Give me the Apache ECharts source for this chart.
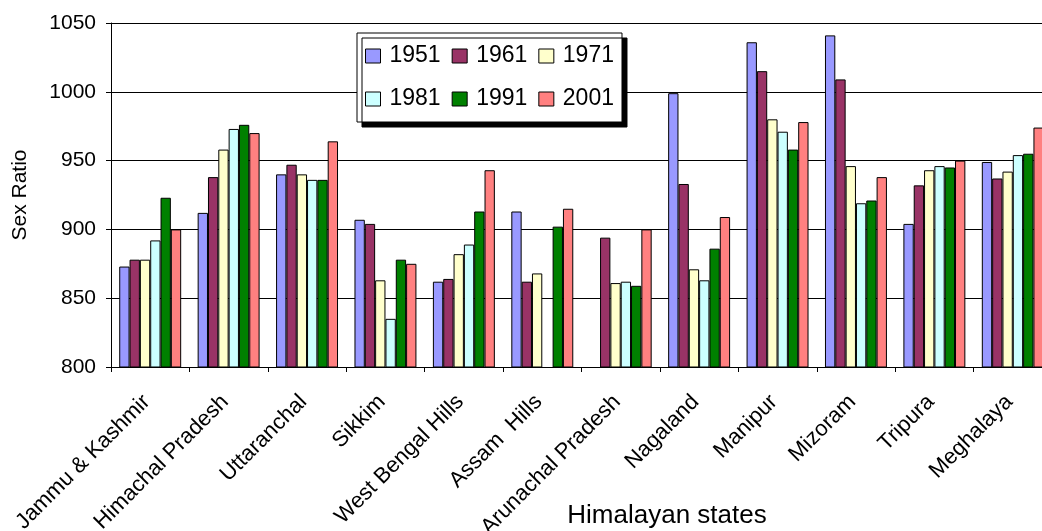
<!DOCTYPE html>
<html>
<head>
<meta charset="utf-8">
<title>Sex Ratio in Himalayan states</title>
<script src="https://cdn.jsdelivr.net/npm/echarts@6/dist/echarts.min.js"></script>
<style>
  html, body { margin: 0; padding: 0; background: #fff; }
  #chart { width: 1042px; height: 531px; }
</style>
</head>
<body>
<div id="chart"></div>
<script>
// Census years shown as bar series
const years = ['1951', '1961', '1971', '1981', '1991', '2001'];

// Himalayan states along the category axis
const states = [
  'Jammu & Kashmir', 'Himachal Pradesh', 'Uttaranchal', 'Sikkim',
  'West Bengal Hills', 'Assam  Hills', 'Arunachal Pradesh', 'Nagaland',
  'Manipur', 'Mizoram', 'Tripura', 'Meghalaya'
];

// Sex ratio (females per 1000 males) per census year, in state order
const sr1951 = [873, 912, 940, 907, 862, 913, null, 999, 1036, 1041, 904, 949];
const sr1961 = [878, 938, 947, 904, 864, 862, 894, 933, 1015, 1009, 932, 937];
const sr1971 = [878, 958, 940, 863, 882, 868, 861, 871, 980, 946, 943, 942];
const sr1981 = [892, 973, 936, 835, 889, null, 862, 863, 971, 919, 946, 954];
const sr1991 = [923, 976, 936, 878, 913, 902, 859, 886, 958, 921, 945, 955];
const sr2001 = [900, 970, 964, 875, 943, 915, 900, 909, 978, 938, 950, 974];

// Y axis range and step
const yMin = 800;
const yMax = 1050;
const yStep = 50;

const seriesValues = [sr1951, sr1961, sr1971, sr1981, sr1991, sr2001];
const seriesColors = ['#9999FF', '#993366', '#FFFFCC', '#CCFFFF', '#008000', '#FF8080'];

const FONT = '"Liberation Sans", Arial, Helvetica, sans-serif';

const chart = echarts.init(document.getElementById('chart'), null, { renderer: 'canvas' });

chart.setOption({
  animation: false,
  backgroundColor: '#ffffff',
  textStyle: { fontFamily: FONT, color: '#000' },
  grid: {
    left: 111,
    top: 23,
    bottom: 164,
    right: -10,
    containLabel: false,
    outerBoundsMode: 'none'
  },
  legend: {
    data: years,
    left: 357,
    top: 33,
    width: 252,
    orient: 'horizontal',
    padding: [7, 8, 7, 8],
    itemGap: 11,
    itemWidth: 15,
    itemHeight: 14,
    icon: 'rect',
    backgroundColor: '#ffffff',
    borderColor: '#000',
    borderWidth: 1,
    borderRadius: 0,
    shadowColor: '#000',
    shadowBlur: 0,
    shadowOffsetX: 5,
    shadowOffsetY: 5,
    itemStyle: { borderColor: '#000', borderWidth: 1 },
    textStyle: {
      fontFamily: FONT,
      fontSize: 23,
      color: '#000',
      lineHeight: 32,
      padding: [0, 0, 0, 4]
    }
  },
  xAxis: {
    type: 'category',
    data: states,
    name: 'Himalayan states',
    nameLocation: 'middle',
    nameGap: 136,
    nameMoveOverlap: false,
    nameTextStyle: {
      fontFamily: FONT,
      fontSize: 26,
      color: '#000',
      padding: [0, 0, 0, 171]
    },
    axisLine: { lineStyle: { color: '#000', width: 1 } },
    axisTick: { show: true, length: 5, lineStyle: { color: '#000' } },
    axisLabel: {
      interval: 0,
      rotate: 45,
      margin: 28,
      padding: [0, 5, 0, 0],
      fontFamily: FONT,
      fontSize: 22,
      color: '#000'
    },
    splitLine: { show: false }
  },
  yAxis: {
    type: 'value',
    min: yMin,
    max: yMax,
    interval: yStep,
    name: 'Sex Ratio',
    nameLocation: 'middle',
    nameGap: 80,
    nameMoveOverlap: false,
    nameTextStyle: { fontFamily: FONT, fontSize: 21, color: '#000' },
    axisLine: { show: true, lineStyle: { color: '#000', width: 1 } },
    axisTick: { show: true, length: 5, lineStyle: { color: '#000' } },
    axisLabel: {
      margin: 15,
      fontFamily: FONT,
      fontSize: 21,
      color: '#000',
      formatter: (v) => String(v)
    },
    splitLine: { show: true, lineStyle: { color: '#000', width: 1 } }
  },
  series: years.map((y, i) => ({
    name: y,
    type: 'bar',
    data: seriesValues[i],
    barGap: '0%',
    barCategoryGap: '21%',
    itemStyle: {
      color: seriesColors[i],
      borderColor: '#000',
      borderWidth: 1
    }
  }))
});
</script>
</body>
</html>
